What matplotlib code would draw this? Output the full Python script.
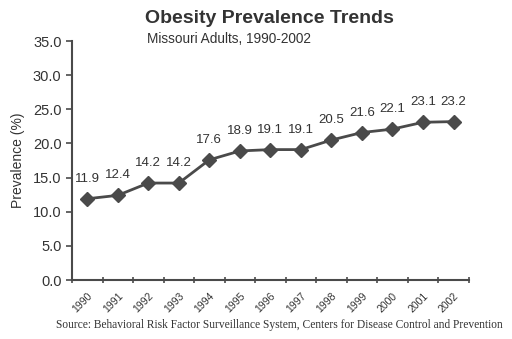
import matplotlib
matplotlib.use('Agg')
import matplotlib.pyplot as plt
import numpy as np

years = ['1990', '1991', '1992', '1993', '1994', '1995', '1996',
         '1997', '1998', '1999', '2000', '2001', '2002']
prevalence = [11.9, 12.4, 14.2, 14.2, 17.6, 18.9, 19.1,
              19.1, 20.5, 21.6, 22.1, 23.1, 23.2]
yticks = [0, 5, 10, 15, 20, 25, 30, 35]

plt.rcParams['font.family'] = ['Liberation Sans', 'DejaVu Sans']
grey = '#4a4a4a'
txt = '#333333'

fig = plt.figure(figsize=(5.12, 3.39), dpi=100)
ax = fig.add_axes([0.1406, 0.174, 0.775, 0.705])

x = np.arange(len(years))
ax.plot(x, prevalence, color=grey, lw=2, marker='D', ms=7.5, mfc=grey, mec=grey)
for xi, v in zip(x, prevalence):
    ax.annotate(f'{v:.1f}', (xi, v), xytext=(0, 10), textcoords='offset points',
                ha='center', va='bottom', fontsize=9.5, color=txt)

ax.set_xlim(-0.5, len(years) - 0.5)
ax.set_ylim(0, 35)
ax.set_yticks(yticks)
ax.set_yticklabels([f'{t:.1f}' for t in yticks], fontsize=10.5, color=txt)
ax.set_xticks(x)
ax.set_xticklabels(years, rotation=45, ha='right', rotation_mode='anchor',
                   fontsize=7.5, color=txt)
ax.set_xticks(np.arange(-0.5, len(years), 1), minor=True)
ax.tick_params(axis='x', which='major', length=0, pad=8)
ax.tick_params(axis='x', which='minor', length=4, width=1.2, color=grey, direction='inout')
ax.tick_params(axis='y', length=4, width=1.2, color=grey, direction='out')

for s in ['top', 'right']:
    ax.spines[s].set_visible(False)
for s in ['left', 'bottom']:
    ax.spines[s].set_color(grey)
    ax.spines[s].set_linewidth(1.5)

ax.set_ylabel('Prevalence (%)', fontsize=10, color=txt, labelpad=6)

fig.text(0.527, 0.945, 'Obesity Prevalence Trends', ha='center', va='center',
         fontsize=14, fontweight='bold', color=txt)
fig.text(0.287, 0.885, 'Missouri Adults, 1990-2002', ha='left', va='center',
         fontsize=9.8, color=txt)
fig.text(0.545, 0.04, 'Source: Behavioral Risk Factor Surveillance System, Centers for Disease Control and Prevention',
         ha='center', va='center', fontsize=8.3, color=txt, family='Liberation Serif')

fig.savefig('out.png', dpi=100)
